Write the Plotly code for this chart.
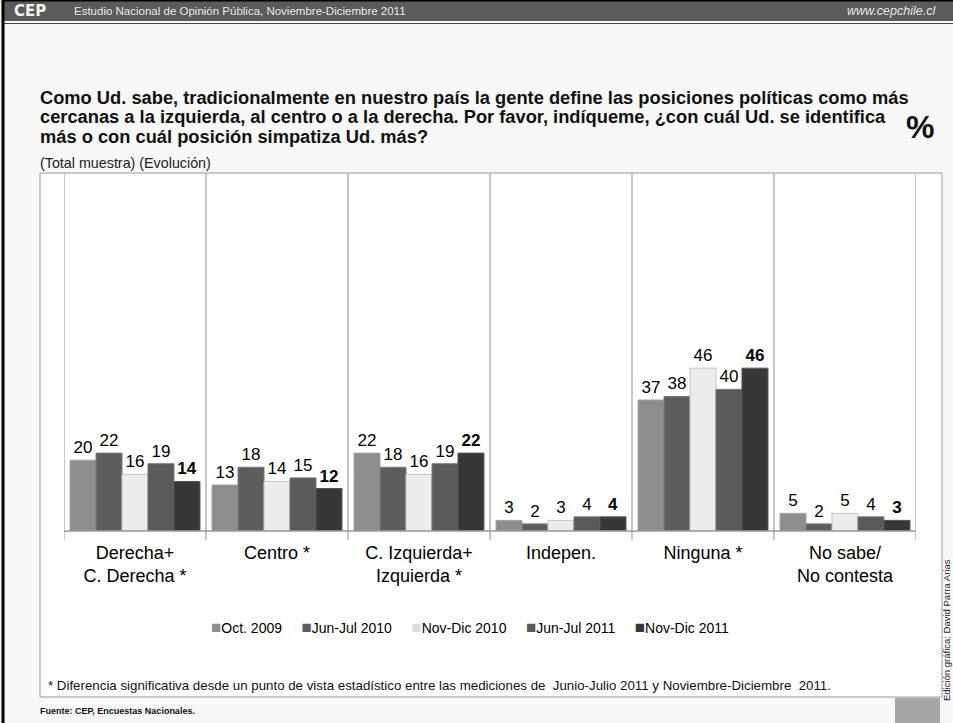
import plotly.graph_objects as go

categories = ["Derecha+<br>C. Derecha *", "Centro *", "C. Izquierda+<br>Izquierda *",
              "Indepen.", "Ninguna *", "No sabe/<br>No contesta"]
series_names = ["Oct. 2009", "Jun-Jul 2010", "Nov-Dic 2010", "Jun-Jul 2011", "Nov-Dic 2011"]
oct_2009 = [20, 13, 22, 3, 37, 5]
jun_jul_2010 = [22, 18, 18, 2, 38, 2]
nov_dic_2010 = [16, 14, 16, 3, 46, 5]
jun_jul_2011 = [19, 15, 19, 4, 40, 4]
nov_dic_2011 = [14, 12, 22, 4, 46, 3]
series_values = [oct_2009, jun_jul_2010, nov_dic_2010, jun_jul_2011, nov_dic_2011]

title_lines = [
    "Como Ud. sabe, tradicionalmente en nuestro país la gente define las posiciones políticas como más",
    "cercanas a la izquierda, al centro o a la derecha. Por favor, indíqueme, ¿con cuál Ud. se identifica",
    "más o con cuál posición simpatiza Ud. más?",
]

fills = ["#8d8d8d", "#5d5d5d", "#ececec", "#5a5a5a", "#373737"]
edges = ["#a3a3a3", "#7a7a7a", "#c4c4c4", "#777777", "#555555"]
legend_square_colors = ["#8d8d8d", "#5d5d5d", "#dcdcdc", "#5a5a5a", "#373737"]

W, H = 953, 723
L, R, T, B = 64, 916, 173, 531
FONT = "Liberation Sans"


def px(x):
    return (x - L) / (R - L)


def py(y):
    return (B - y) / (B - T)


fig = go.Figure()
for i, (name, vals) in enumerate(zip(series_names, series_values)):
    bold = i == len(series_names) - 1
    fig.add_trace(go.Bar(
        x=categories, y=vals, name=name,
        marker=dict(color=fills[i], line=dict(color=edges[i], width=1)),
        texttemplate="<b>%{y}</b>" if bold else "%{y}",
        textposition="outside", cliponaxis=False, constraintext="none",
        textfont=dict(family=FONT, size=17, color="#000"),
        hoverinfo="skip", showlegend=False,
    ))

shapes = []
# outer white panel
shapes.append(dict(type="rect", xref="paper", yref="paper", layer="below",
                   x0=px(40), x1=px(942), y0=py(697), y1=py(173),
                   fillcolor="white", line=dict(color="#9a9a9a", width=1)))
# header bar
shapes.append(dict(type="rect", xref="paper", yref="paper", layer="below",
                   x0=px(3), x1=px(953), y0=py(21), y1=py(0),
                   fillcolor="#5b5b5b", line=dict(width=0)))
shapes.append(dict(type="line", xref="paper", yref="paper",
                   x0=px(3), x1=px(953), y0=py(0.8), y1=py(0.8),
                   line=dict(color="#000", width=1.6)))
shapes.append(dict(type="line", xref="paper", yref="paper",
                   x0=px(3), x1=px(953), y0=py(23.5), y1=py(23.5),
                   line=dict(color="#444", width=1)))
# left black frame
shapes.append(dict(type="line", xref="paper", yref="paper",
                   x0=px(3), x1=px(3), y0=py(723), y1=py(0),
                   line=dict(color="#000", width=3)))
# bottom-right gray block
shapes.append(dict(type="rect", xref="paper", yref="paper",
                   x0=px(895), x1=px(940), y0=py(723), y1=py(698),
                   fillcolor="#a6a6a6", line=dict(width=0)))
# plot box & category separators
for k in range(len(categories) + 1):
    shapes.append(dict(type="line", xref="x", yref="paper",
                       x0=k - 0.5, x1=k - 0.5, y0=py(540), y1=1,
                       line=dict(color="#a8a8a8", width=1.3)))
shapes.append(dict(type="line", xref="paper", yref="paper",
                   x0=0, x1=1, y0=0, y1=0, line=dict(color="#9a9a9a", width=1.3)))

# legend text built from the series names and colours
legend_parts = []
for name, col in zip(series_names, legend_square_colors):
    legend_parts.append("<span style='color:%s;font-size:17px'>■</span>%s" % (col, name))
legend_text = "&nbsp;&nbsp;&nbsp;&nbsp;&nbsp;".join(legend_parts)

annotations = [
    dict(text="CEP", x=px(12), y=py(11), xanchor="left", yanchor="middle",
         font=dict(family="DejaVu Sans", size=15, color="#f2f2f2", weight="bold")),
    dict(text="Estudio Nacional de Opinión Pública, Noviembre-Diciembre 2011",
         x=px(72), y=py(11), xanchor="left", yanchor="middle",
         font=dict(family=FONT, size=11.5, color="#e8e8e8")),
    dict(text="<i>www.cepchile.cl</i>", x=px(938), y=py(11), xanchor="right", yanchor="middle",
         font=dict(family=FONT, size=12.5, color="#e8e8e8")),
    dict(text="<b>%</b>", x=px(920), y=py(127), xanchor="center", yanchor="middle",
         font=dict(family=FONT, size=32, color="#111")),
    dict(text="(Total muestra) (Evolución)", x=px(38), y=py(163), xanchor="left", yanchor="middle",
         font=dict(family=FONT, size=14.3, color="#222")),
    dict(text=legend_text, x=px(470), y=py(627), xanchor="center", yanchor="middle",
         font=dict(family=FONT, size=14, color="#000")),
    dict(text="* Diferencia significativa desde un punto de vista estadístico entre las mediciones de  Junio-Julio 2011 y Noviembre-Diciembre  2011.",
         x=px(46), y=py(685), xanchor="left", yanchor="middle",
         font=dict(family=FONT, size=13.3, color="#111")),
    dict(text="<b>Fuente: CEP, Encuestas Nacionales.</b>", x=px(38), y=py(711), xanchor="left", yanchor="middle",
         font=dict(family=FONT, size=9, color="#111")),
    dict(text="Edición gráfica: David Parra Arias", x=px(946), y=py(630), xanchor="center", yanchor="middle",
         textangle=-90, font=dict(family=FONT, size=9.5, color="#222")),
]
for j, line in enumerate(title_lines):
    annotations.append(dict(text="<b>" + line + "</b>", x=px(38), y=py(98 + 19 * j),
                            xanchor="left", yanchor="middle", align="left",
                            font=dict(family=FONT, size=18.3, color="#111")))
for a in annotations:
    a.update(xref="paper", yref="paper", showarrow=False)

fig.update_layout(
    width=W, height=H,
    margin=dict(l=L, r=W - R, t=T, b=H - B, pad=0),
    paper_bgcolor="#f8f8f8", plot_bgcolor="white",
    barmode="group", bargap=0.085, bargroupgap=0,
    font=dict(family=FONT, color="#000"),
    showlegend=False,
    xaxis=dict(showgrid=False, showline=False, ticks="", zeroline=False,
               tickfont=dict(family=FONT, size=18, color="#000"), ticklabelstandoff=9,
               range=[-0.5, 5.5], fixedrange=True),
    yaxis=dict(visible=False, range=[0, (B - T) / 3.54], fixedrange=True),
    shapes=shapes, annotations=annotations,
)

fig.write_html("out.html", config={"displayModeBar": False},
               post_script="document.body.style.margin='0';document.body.style.overflow='hidden';")
